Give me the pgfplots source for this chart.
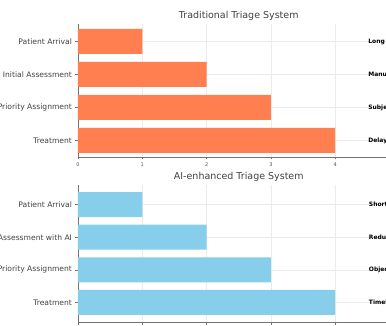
\documentclass[border=0pt]{standalone}
\usepackage{pgfplots}
\pgfplotsset{compat=1.18}
\usepackage{fontspec}
\setmainfont{DejaVu Sans}
\definecolor{coral}{HTML}{FF7F50}
\definecolor{skyblue}{HTML}{87CEEB}
\tikzset{rtext/.style={anchor=west, font=\fontsize{6}{7}\selectfont\bfseries}}
\pgfplotsset{
  triage/.style={
    scale only axis, width=321.5pt, xmin=0, xmax=5,
    xtick={0,1,2,3,4}, ytick={0,1,2,3},
    axis x line*=bottom, axis y line*=left,
    axis line style={black!55, line width=0.6pt},
    tick style={black!55, line width=0.5pt},
    tick align=outside, major tick length=2.5pt,
    xmajorgrids, ymajorgrids,
    grid style={black!8, line width=0.4pt},
    /pgf/number format/assume math mode=true,
    xticklabel style={font=\fontsize{5}{6}\selectfont, text=black!70},
    yticklabel style={font=\fontsize{7.6}{8}\selectfont, text=black!75},
    title style={font=\fontsize{9.5}{10}\selectfont, text=black!75, yshift=-6pt},
    xbar, bar width=25pt, clip=false,
  },
}
\begin{document}
\begin{tikzpicture}
\path[use as bounding box] (0pt,0pt) rectangle (386pt,-326pt);
\clip (0pt,0pt) rectangle (386pt,-326pt);
% top panel
\begin{axis}[triage, anchor=south west, at={(78pt,-157pt)},
  height=133pt, ymin=-0.5, ymax=3.53,
  yticklabels={Treatment, Priority Assignment, Initial Assessment, Patient Arrival},
  title={Traditional Triage System}]
\addplot[draw=none, fill=coral] coordinates {(4,0) (3,1) (2,2) (1,3)};
\node[rtext] at (axis cs:4.46,3) {Long Wait Times};
\node[rtext] at (axis cs:4.46,2) {Manual Assessment};
\node[rtext] at (axis cs:4.46,1) {Subjective Prioritization};
\node[rtext] at (axis cs:4.46,0) {Delayed Treatment};
\end{axis}
% bottom panel
\begin{axis}[triage, anchor=south west, at={(78pt,-322pt)},
  height=137pt, ymin=-0.6, ymax=3.6,
  yticklabels={Treatment, Priority Assignment, Initial Assessment with AI, Patient Arrival},
  title={AI-enhanced Triage System}]
\addplot[draw=none, fill=skyblue] coordinates {(4,0) (3,1) (2,2) (1,3)};
\node[rtext] at (axis cs:4.47,3) {Shorter Wait Times};
\node[rtext] at (axis cs:4.47,2) {Reduced Assessment Time};
\node[rtext] at (axis cs:4.47,1) {Objective Prioritization};
\node[rtext] at (axis cs:4.47,0) {Timely Treatment};
\end{axis}
\end{tikzpicture}
\end{document}
